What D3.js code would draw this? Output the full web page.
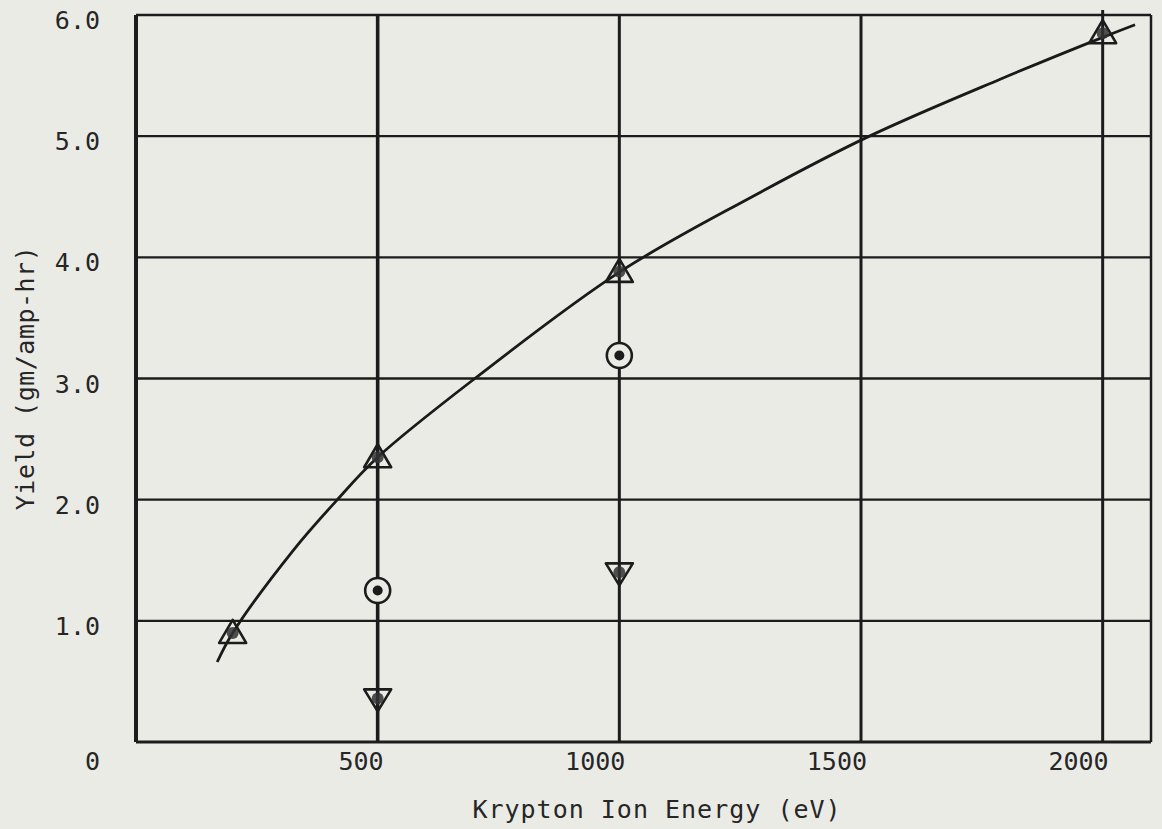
<!DOCTYPE html>
<html lang="en">
<head>
    <meta charset="UTF-8">
    <title>Yield vs Krypton Ion Energy</title>
    <style>
        body {
            margin: 0;
            padding: 0;
            background-color: #ebebe6;
        }
        svg {
            display: block;
        }
        .grid line {
            stroke: #1c1c1c;
        }
        .lbl {
            font-family: "DejaVu Sans Mono", monospace;
            font-size: 25px;
            fill: #262626;
        }
        .curve {
            fill: none;
            stroke: #1a1a1a;
            stroke-width: 2.8px;
        }
    </style>
</head>
<body>
    <svg id="chart" width="1162" height="829"></svg>

    <script src="https://d3js.org/d3.v7.min.js"></script>
    <script>
        // tick values and labels
        const xTicks = [500, 1000, 1500, 2000];
        const xTickLabels = ['500', '1000', '1500', '2000'];
        const yTicks = [0, 1, 2, 3, 4, 5, 6];
        const yTickLabels = ['0', '1.0', '2.0', '3.0', '4.0', '5.0', '6.0'];

        // fitted curve
        const curveEnergy = [168, 200, 325, 412, 500, 701, 1001, 1270, 1512, 1788, 2009, 2067];
        const curveYield  = [0.66, 0.90, 1.58, 1.98, 2.35, 3.00, 3.88, 4.49, 4.99, 5.47, 5.83, 5.92];

        // measured points
        const upEnergy = [200, 500, 1000, 2000];
        const upYield  = [0.90, 2.35, 3.88, 5.85];
        const circEnergy = [500, 1000];
        const circYield  = [1.25, 3.19];
        const downEnergy = [500, 1000];
        const downYield  = [0.36, 1.40];

        const svg = d3.select('#chart');

        const x = d3.scaleLinear().domain([0, 2100]).range([136, 1151]);
        const y = d3.scaleLinear().domain([0, 6]).range([742, 15]);

        const ink = '#1c1c1c';

        // horizontal grid lines
        svg.append('g').attr('class', 'grid')
            .selectAll('line')
            .data(yTicks.slice(1))
            .enter().append('line')
            .attr('x1', x(0)).attr('x2', x(2100))
            .attr('y1', d => y(d)).attr('y2', d => y(d))
            .attr('stroke-width', 2.4);

        // vertical grid lines
        svg.append('g').attr('class', 'grid')
            .selectAll('line')
            .data(xTicks)
            .enter().append('line')
            .attr('x1', d => x(d)).attr('x2', d => x(d))
            .attr('y1', y(0)).attr('y2', d => d === 2000 ? y(6) - 5 : y(6))
            .attr('stroke-width', d => d === 500 ? 3.6 : 3);

        // frame
        svg.append('line').attr('x1', x(0)).attr('x2', x(0)).attr('y1', y(6)).attr('y2', y(0))
            .attr('stroke', ink).attr('stroke-width', 4);
        svg.append('line').attr('x1', x(0)).attr('x2', x(2100)).attr('y1', y(0)).attr('y2', y(0))
            .attr('stroke', ink).attr('stroke-width', 3);
        svg.append('line').attr('x1', x(2100)).attr('x2', x(2100)).attr('y1', y(6)).attr('y2', y(0))
            .attr('stroke', ink).attr('stroke-width', 2.5);

        // tick labels
        svg.append('g').selectAll('text')
            .data(xTicks)
            .enter().append('text')
            .attr('class', 'lbl')
            .attr('x', d => x(d) + 6)
            .attr('y', y(0) + 28)
            .attr('text-anchor', 'end')
            .text((d, i) => xTickLabels[i]);

        svg.append('g').selectAll('text')
            .data(yTicks)
            .enter().append('text')
            .attr('class', 'lbl')
            .attr('x', 100)
            .attr('y', d => y(d) + (d === 0 ? 28 : 14))
            .attr('text-anchor', 'end')
            .text((d, i) => yTickLabels[i]);

        // axis titles
        svg.append('text')
            .attr('class', 'lbl')
            .attr('x', 657)
            .attr('y', 818)
            .attr('text-anchor', 'middle')
            .style('letter-spacing', '1px')
            .text('Krypton Ion Energy (eV)');

        svg.append('text')
            .attr('class', 'lbl')
            .attr('transform', 'translate(34,378) rotate(-90)')
            .attr('text-anchor', 'middle')
            .style('letter-spacing', '0.5px')
            .text('Yield (gm/amp-hr)');

        // curve
        const curvePts = curveEnergy.map((e, i) => [e, curveYield[i]]);
        svg.append('path')
            .attr('class', 'curve')
            .attr('d', d3.line()
                .x(d => x(d[0]))
                .y(d => y(d[1]))
                .curve(d3.curveCatmullRom.alpha(0.5))(curvePts));

        // markers
        const dotFill = '#333';

        const up = upEnergy.map((e, i) => ({ e: e, v: upYield[i] }));
        const upG = svg.append('g').selectAll('g')
            .data(up).enter().append('g')
            .attr('transform', d => `translate(${x(d.e)},${y(d.v)})`);
        upG.append('path')
            .attr('d', 'M0,-13 L13.5,10 L-13.5,10 Z')
            .attr('fill', 'none').attr('stroke', ink).attr('stroke-width', 2.6)
            .attr('stroke-linejoin', 'round');
        upG.append('circle').attr('r', 6).attr('fill', dotFill).attr('opacity', 0.85);

        const circ = circEnergy.map((e, i) => ({ e: e, v: circYield[i] }));
        const circG = svg.append('g').selectAll('g')
            .data(circ).enter().append('g')
            .attr('transform', d => `translate(${x(d.e)},${y(d.v)})`);
        circG.append('circle').attr('r', 12.5)
            .attr('fill', '#ebebe6').attr('stroke', ink).attr('stroke-width', 2.6);
        circG.append('circle').attr('r', 5).attr('fill', ink);

        const down = downEnergy.map((e, i) => ({ e: e, v: downYield[i] }));
        const downG = svg.append('g').selectAll('g')
            .data(down).enter().append('g')
            .attr('transform', d => `translate(${x(d.e)},${y(d.v)})`);
        downG.append('path')
            .attr('d', 'M-13.5,-9 L13.5,-9 L0,13 Z')
            .attr('fill', 'none').attr('stroke', ink).attr('stroke-width', 2.6)
            .attr('stroke-linejoin', 'round');
        downG.append('circle').attr('r', 6).attr('fill', dotFill).attr('opacity', 0.85);
    </script>
</body>
</html>
